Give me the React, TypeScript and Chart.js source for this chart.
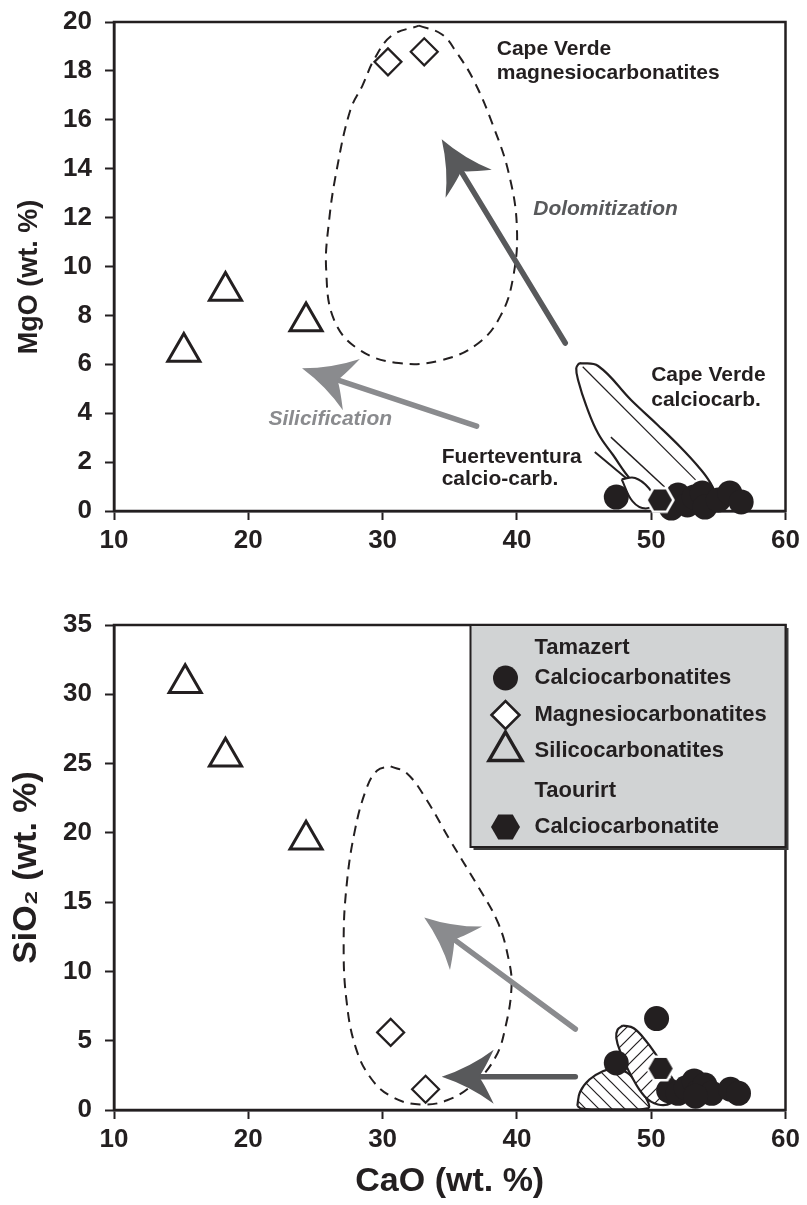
import React, { useEffect, useRef } from 'react';
import { Chart, registerables } from 'chart.js';

Chart.register(...registerables);

const FONT = "'Liberation Sans', Arial, Helvetica, sans-serif";
const INK = '#231f20';
const DARK_GREY = '#58595b';
const LIGHT_GREY = '#8a8b8e';
const LEGEND_BG = '#d1d3d4';

// ---------- axes ----------
const caoTicks = [10, 20, 30, 40, 50, 60];
const mgoTicks = [0, 2, 4, 6, 8, 10, 12, 14, 16, 18, 20];
const sio2Ticks = [0, 5, 10, 15, 20, 25, 30, 35];

// ---------- upper panel: MgO vs CaO ----------
const calcioCaO_A = [47.4, 51.5, 52.0, 52.7, 53.2, 53.8, 54.0, 55.0, 55.85, 56.7];
const calcioMgO_A = [0.57, 0.12, 0.65, 0.25, 0.57, 0.74, 0.16, 0.45, 0.74, 0.37];
const magnesioCaO_A = [30.4, 33.1];
const magnesioMgO_A = [18.37, 18.78];
const silicoCaO_A = [15.2, 18.3, 24.3];
const silicoMgO_A = [6.5, 9.0, 7.75];
const taourirtCaO_A = [50.65];
const taourirtMgO_A = [0.45];

// Cape Verde magnesiocarbonatite field (dashed)
const cvMagFieldCaO = [32.7, 34.4, 35.5, 36.8, 38.2, 39.4, 40.0, 39.7, 38.8, 37.15, 34.4, 31.2, 28.25, 26.4, 25.8, 26.0, 26.6, 27.6, 28.5, 29.4, 30.7, 32.7];
const cvMagFieldMgO = [19.85, 19.5, 18.76, 17.6, 15.8, 13.8, 11.6, 9.5, 8.0, 6.87, 6.17, 6.05, 6.6, 7.8, 9.85, 11.8, 14.0, 16.4, 17.4, 18.5, 19.45, 19.85];
// Cape Verde calciocarbonatite field (solid)
const cvCalFieldCaO = [44.64, 46.05, 48.5, 50.5, 52.2, 53.47, 54.36, 54.8, 54.36, 52.6, 51.0, 49.6, 48.5, 47.16, 46.05, 45.16, 44.57, 44.42, 44.64];
const cvCalFieldMgO = [6.05, 5.93, 4.54, 3.51, 2.6, 1.84, 1.19, 0.57, 0.2, 0.3, 0.5, 0.8, 1.27, 2.29, 3.17, 4.31, 5.33, 5.84, 6.05];
const cvInnerLineCaO = [44.9, 53.3];
const cvInnerLineMgO = [5.9, 1.27];
// Fuerteventura field (upper panel)
const fvLineCaO = [47.0, 51.0];
const fvLineMgO = [3.02, 0.98];
const fvLensCaO = [47.8, 48.8, 49.8, 50.3, 49.6, 48.6, 47.8];
const fvLensMgO = [1.3, 1.35, 0.95, 0.4, 0.1, 0.4, 1.3];
const fvLeaderCaO = [45.8, 48.3];
const fvLeaderMgO = [2.41, 1.27];

// arrows [tail, tip]
const dolomitizationCaO = [43.6, 34.4];
const dolomitizationMgO = [6.87, 15.2];
const silicificationCaO = [37.0, 24.0];
const silicificationMgO = [3.47, 5.84];

// annotation texts
const noteText = ['Cape Verde', 'magnesiocarbonatites', 'Cape Verde', 'calciocarb.', 'Fuerteventura', 'calcio-carb.'];
const noteCaO = [38.5, 38.5, 50.0, 50.0, 34.4, 34.4];
const noteMgO = [18.9, 17.9, 5.55, 4.54, 2.2, 1.3];
const processText = ['Dolomitization', 'Silicification'];
const processCaO = [46.6, 26.1];
const processMgO = [12.35, 3.75];

// ---------- lower panel: SiO2 vs CaO ----------
const calcioCaO_B = [47.4, 50.4, 51.3, 52.0, 52.6, 53.2, 53.5, 54.0, 54.5, 55.9, 56.5, 53.3];
const calcioSiO2_B = [3.4, 6.6, 1.4, 1.2, 1.6, 2.1, 1.3, 1.8, 1.2, 1.5, 1.2, 1.0];
const magnesioCaO_B = [30.6, 33.2];
const magnesioSiO2_B = [5.6, 1.5];
const silicoCaO_B = [15.3, 18.3, 24.3];
const silicoSiO2_B = [30.8, 25.5, 19.5];
const taourirtCaO_B = [50.7];
const taourirtSiO2_B = [3.0];

const cvMagField2CaO = [30.6, 31.8, 33.2, 35.0, 37.0, 38.6, 39.4, 39.6, 39.15, 38.4, 36.8, 34.8, 32.8, 30.8, 29.2, 28.0, 27.3, 27.1, 27.3, 27.9, 28.8, 29.6, 30.6];
const cvMagField2SiO2 = [24.8, 24.3, 22.5, 19.5, 16.3, 13.5, 10.8, 8.9, 6.0, 3.8, 1.9, 0.7, 0.4, 0.9, 2.2, 4.5, 8.0, 12.0, 16.0, 20.0, 23.2, 24.5, 24.8];
const fvUpperCaO = [47.9, 48.7, 49.6, 50.5, 51.5, 52.0, 51.5, 50.5, 49.5, 48.5, 47.7, 47.4, 47.5, 47.9];
const fvUpperSiO2 = [6.1, 5.9, 5.0, 3.8, 2.4, 1.2, 0.5, 0.4, 1.0, 2.5, 4.2, 5.2, 5.8, 6.1];
const fvLowerCaO = [44.5, 44.7, 45.4, 46.4, 47.3, 48.2, 49.0, 49.6, 49.8, 48.0, 46.0, 44.8, 44.5];
const fvLowerSiO2 = [0.3, 1.3, 2.2, 2.8, 3.0, 2.7, 1.9, 0.9, 0.15, 0.05, 0.05, 0.1, 0.3];

const upArrowCaO = [44.35, 33.1];
const upArrowSiO2 = [5.84, 13.9];
const leftArrowCaO = [44.35, 34.4];
const leftArrowSiO2 = [2.4, 2.4];

// legend
const legendHeads = ['Tamazert', 'Taourirt'];
const legendItems = ['Calciocarbonatites', 'Magnesiocarbonatites', 'Silicocarbonatites', 'Calciocarbonatite'];

// axis titles
const xTitle = 'CaO (wt. %)';
const yTitleTop = 'MgO (wt. %)';
const yTitleBottom = 'SiO\u2082 (wt. %)';

type XY = { x: number; y: number };
const zip = (xs: number[], ys: number[]): XY[] => xs.map((x, i) => ({ x, y: ys[i] }));

function makeHexagon(size: number, outline: string | null, ow: number): HTMLCanvasElement {
  const pad = outline ? ow : 0;
  const c = document.createElement('canvas');
  const w = Math.ceil(size + pad * 2 + 2);
  const h = Math.ceil(size * 0.866 + pad * 2 + 2);
  c.width = w;
  c.height = h;
  const ctx = c.getContext('2d')!;
  const cx = w / 2, cy = h / 2, r = size / 2;
  ctx.beginPath();
  for (let i = 0; i < 6; i++) {
    const a = (Math.PI / 3) * i;
    const px = cx + r * Math.cos(a), py = cy + r * Math.sin(a);
    if (i === 0) ctx.moveTo(px, py); else ctx.lineTo(px, py);
  }
  ctx.closePath();
  ctx.fillStyle = INK;
  ctx.fill();
  if (outline) {
    ctx.lineWidth = ow;
    ctx.strokeStyle = outline;
    ctx.stroke();
  }
  return c;
}

function makeHatch(dir: number): CanvasPattern {
  const s = 13;
  const c = document.createElement('canvas');
  c.width = s;
  c.height = s;
  const ctx = c.getContext('2d')!;
  ctx.fillStyle = '#ffffff';
  ctx.fillRect(0, 0, s, s);
  ctx.strokeStyle = INK;
  ctx.lineWidth = 1.2;
  ctx.beginPath();
  if (dir > 0) {
    ctx.moveTo(-1, s + 1); ctx.lineTo(s + 1, -1);
    ctx.moveTo(-1, 1); ctx.lineTo(1, -1);
    ctx.moveTo(s - 1, s + 1); ctx.lineTo(s + 1, s - 1);
  } else {
    ctx.moveTo(-1, -1); ctx.lineTo(s + 1, s + 1);
    ctx.moveTo(s - 1, -1); ctx.lineTo(s + 1, 1);
    ctx.moveTo(-1, s - 1); ctx.lineTo(1, s + 1);
  }
  ctx.stroke();
  return ctx.createPattern(c, 'repeat')!;
}

function drawArrow(ctx: CanvasRenderingContext2D, x0: number, y0: number, x1: number, y1: number, color: string) {
  const dx = x1 - x0, dy = y1 - y0;
  const len = Math.hypot(dx, dy);
  const ux = dx / len, uy = dy / len;
  const px = -uy, py = ux;
  const headLen = 52, half = 27, notch = 37;
  const nx = x1 - ux * notch, ny = y1 - uy * notch;
  ctx.save();
  ctx.strokeStyle = color;
  ctx.fillStyle = color;
  ctx.lineWidth = 5.5;
  ctx.lineCap = 'round';
  ctx.beginPath();
  ctx.moveTo(x0, y0);
  ctx.lineTo(nx + ux * 3, ny + uy * 3);
  ctx.stroke();
  const bx = x1 - ux * headLen, by = y1 - uy * headLen;
  const w1x = bx + px * half, w1y = by + py * half;
  const w2x = bx - px * half, w2y = by - py * half;
  const mx = x1 - ux * headLen * 0.55, my = y1 - uy * headLen * 0.55;
  ctx.beginPath();
  ctx.moveTo(x1, y1);
  ctx.quadraticCurveTo(mx + px * half * 0.35, my + py * half * 0.35, w1x, w1y);
  ctx.quadraticCurveTo(nx + px * 4 - ux * 4, ny + py * 4 - uy * 4, nx, ny);
  ctx.quadraticCurveTo(nx - px * 4 - ux * 4, ny - py * 4 - uy * 4, w2x, w2y);
  ctx.quadraticCurveTo(mx - px * half * 0.35, my - py * half * 0.35, x1, y1);
  ctx.closePath();
  ctx.fill();
  ctx.restore();
}

const framePlugin = {
  id: 'frame',
  beforeDatasetsDraw(chart: any) {
    const { ctx, chartArea: a } = chart;
    ctx.save();
    ctx.strokeStyle = INK;
    ctx.lineWidth = 2.5;
    ctx.strokeRect(a.left, a.top, a.right - a.left, a.bottom - a.top);
    ctx.restore();
  },
};

function pointDataset(data: XY[], style: any, radius: number, bg: string, bw: number) {
  return {
    data,
    pointStyle: style,
    pointRadius: radius,
    pointHoverRadius: radius,
    pointBackgroundColor: bg,
    pointBorderColor: INK,
    pointBorderWidth: bw,
    backgroundColor: bg,
    borderColor: INK,
    showLine: false,
    clip: false as any,
  };
}

function lineDataset(data: XY[], opts: any) {
  return {
    data,
    showLine: true,
    pointRadius: 0,
    pointHoverRadius: 0,
    borderColor: INK,
    borderWidth: 2,
    tension: 0.4,
    fill: false,
    backgroundColor: 'rgba(0,0,0,0)',
    ...opts,
  };
}

const tickFont = { family: FONT, size: 26, weight: 'bold' };

function xAxis(title: string | null, titleSize: number, height: number, titlePad: number) {
  return {
    type: 'linear',
    min: caoTicks[0],
    max: caoTicks[caoTicks.length - 1],
    afterFit: (s: any) => {
      s.height = height;
      s.paddingLeft = 0;
      s.paddingRight = 0;
    },
    afterBuildTicks: (s: any) => { s.ticks = caoTicks.map((v) => ({ value: v })); },
    ticks: { color: INK, font: tickFont, padding: 5, maxRotation: 0, autoSkip: false },
    grid: { display: true, drawOnChartArea: false, drawTicks: true, tickLength: 9, tickWidth: 2, tickColor: INK, color: INK },
    border: { display: true, color: INK, width: 2.5 },
    title: {
      display: !!title,
      text: title || '',
      color: INK,
      font: { family: FONT, size: titleSize, weight: 'bold' },
      padding: { top: 0, bottom: titlePad },
    },
  };
}

function yAxis(ticks: number[], title: string | null, titleSize: number, titlePad: number) {
  return {
    type: 'linear',
    min: ticks[0],
    max: ticks[ticks.length - 1],
    afterFit: (s: any) => {
      s.width = 114;
      s.paddingTop = 0;
      s.paddingBottom = 0;
    },
    afterBuildTicks: (s: any) => { s.ticks = ticks.map((v) => ({ value: v })); },
    ticks: { color: INK, font: tickFont, padding: 13, autoSkip: false },
    grid: { display: true, drawOnChartArea: false, drawTicks: true, tickLength: 9, tickWidth: 2, tickColor: INK, color: INK },
    border: { display: true, color: INK, width: 2.5 },
    title: {
      display: !!title,
      text: title || '',
      color: INK,
      font: { family: FONT, size: titleSize, weight: 'bold' },
      padding: { top: titlePad, bottom: 0 },
    },
  };
}

export default function App() {
  const topRef = useRef<HTMLCanvasElement>(null);
  const botRef = useRef<HTMLCanvasElement>(null);

  useEffect(() => {
    document.body.style.margin = '0';
    const hexMarker = makeHexagon(27, '#ffffff', 2.5);
    const hexLegend = makeHexagon(29, null, 0);
    const hatchUp = makeHatch(1);
    const hatchDown = makeHatch(-1);

    const topAnnotations = {
      id: 'topAnnotations',
      afterDatasetsDraw(chart: any) {
        const { ctx, scales } = chart;
        const X = (v: number) => scales.x.getPixelForValue(v);
        const Y = (v: number) => scales.y.getPixelForValue(v);
        drawArrow(ctx, X(dolomitizationCaO[0]), Y(dolomitizationMgO[0]), X(dolomitizationCaO[1]), Y(dolomitizationMgO[1]), DARK_GREY);
        drawArrow(ctx, X(silicificationCaO[0]), Y(silicificationMgO[0]), X(silicificationCaO[1]), Y(silicificationMgO[1]), LIGHT_GREY);
        ctx.save();
        ctx.textBaseline = 'middle';
        ctx.textAlign = 'left';
        ctx.fillStyle = INK;
        ctx.font = `bold 21px ${FONT}`;
        noteText.forEach((t, i) => ctx.fillText(t, X(noteCaO[i]), Y(noteMgO[i])));
        ctx.textAlign = 'center';
        ctx.font = `italic bold 21px ${FONT}`;
        const colors = [DARK_GREY, LIGHT_GREY];
        processText.forEach((t, i) => {
          ctx.fillStyle = colors[i];
          ctx.fillText(t, X(processCaO[i]), Y(processMgO[i]));
        });
        ctx.restore();
      },
      afterDraw(chart: any) {
        const { ctx } = chart;
        ctx.save();
        ctx.translate(30, 277);
        ctx.rotate(-Math.PI / 2);
        ctx.textAlign = 'center';
        ctx.textBaseline = 'middle';
        ctx.fillStyle = INK;
        ctx.font = `bold 27px ${FONT}`;
        ctx.fillText(yTitleTop, 0, 0);
        ctx.restore();
      },
    };

    const botAnnotations = {
      id: 'botAnnotations',
      afterDatasetsDraw(chart: any) {
        const { ctx, scales } = chart;
        const X = (v: number) => scales.x.getPixelForValue(v);
        const Y = (v: number) => scales.y.getPixelForValue(v);
        drawArrow(ctx, X(upArrowCaO[0]), Y(upArrowSiO2[0]), X(upArrowCaO[1]), Y(upArrowSiO2[1]), LIGHT_GREY);
        drawArrow(ctx, X(leftArrowCaO[0]), Y(leftArrowSiO2[0]), X(leftArrowCaO[1]), Y(leftArrowSiO2[1]), DARK_GREY);
      },
      afterDraw(chart: any) {
        const { ctx, chartArea: a } = chart;
        const right = a.right;
        const left = right - 315;
        const top = a.top;
        const h = 222;
        ctx.save();
        ctx.fillStyle = '#3a3a3a';
        ctx.fillRect(left + 3, top + 3, right - left, h);
        ctx.fillStyle = LEGEND_BG;
        ctx.fillRect(left, top, right - left, h);
        ctx.strokeStyle = INK;
        ctx.lineWidth = 2;
        ctx.strokeRect(left, top, right - left, h);
        const mx = left + 35;
        const tx = left + 64;
        const rows = [23, 53, 90, 126, 166, 202];
        ctx.fillStyle = INK;
        ctx.textAlign = 'left';
        ctx.textBaseline = 'middle';
        ctx.font = `bold 22px ${FONT}`;
        ctx.fillText(legendHeads[0], tx, top + rows[0]);
        ctx.fillText(legendItems[0], tx, top + rows[1]);
        ctx.fillText(legendItems[1], tx, top + rows[2]);
        ctx.fillText(legendItems[2], tx, top + rows[3]);
        ctx.fillText(legendHeads[1], tx, top + rows[4]);
        ctx.fillText(legendItems[3], tx, top + rows[5]);
        // circle
        ctx.beginPath();
        ctx.arc(mx, top + rows[1], 12.5, 0, Math.PI * 2);
        ctx.fill();
        // diamond
        const dy = top + rows[2], r = 14;
        ctx.beginPath();
        ctx.moveTo(mx - r, dy); ctx.lineTo(mx, dy - r); ctx.lineTo(mx + r, dy); ctx.lineTo(mx, dy + r); ctx.closePath();
        ctx.fillStyle = '#ffffff';
        ctx.fill();
        ctx.lineWidth = 2.5;
        ctx.stroke();
        // triangle
        const ty = top + rows[3], tr = 19;
        ctx.beginPath();
        ctx.moveTo(mx, ty - tr);
        ctx.lineTo(mx + tr * 0.866, ty + tr * 0.5);
        ctx.lineTo(mx - tr * 0.866, ty + tr * 0.5);
        ctx.closePath();
        ctx.lineWidth = 3.5;
        ctx.stroke();
        // hexagon
        ctx.drawImage(hexLegend, mx - hexLegend.width / 2, top + rows[5] - hexLegend.height / 2);
        ctx.restore();
      },
    };

    const common = {
      responsive: false,
      animation: false as const,
      devicePixelRatio: 1,
      events: [] as any[],
      plugins: { legend: { display: false }, tooltip: { enabled: false } },
    };

    const topChart = new Chart(topRef.current!, {
      type: 'scatter',
      data: {
        datasets: [
          pointDataset(zip(taourirtCaO_A, taourirtMgO_A), hexMarker, 14, INK, 0),
          pointDataset(zip(calcioCaO_A, calcioMgO_A), 'circle', 12.5, INK, 0),
          pointDataset(zip(magnesioCaO_A, magnesioMgO_A), 'rectRot', 13.5, '#ffffff', 2.2),
          pointDataset(zip(silicoCaO_A, silicoMgO_A), 'triangle', 18.5, '#ffffff', 3),
          lineDataset(zip(fvLensCaO, fvLensMgO), { fill: 'shape', backgroundColor: '#ffffff', borderWidth: 2 }),
          lineDataset(zip(fvLeaderCaO, fvLeaderMgO), { tension: 0, borderWidth: 2 }),
          lineDataset(zip(fvLineCaO, fvLineMgO), { tension: 0, borderWidth: 1.5 }),
          lineDataset(zip(cvInnerLineCaO, cvInnerLineMgO), { tension: 0, borderWidth: 1.2 }),
          lineDataset(zip(cvCalFieldCaO, cvCalFieldMgO), { borderWidth: 2.2 }),
          lineDataset(zip(cvMagFieldCaO, cvMagFieldMgO), { borderWidth: 2, borderDash: [10, 7] }),
        ] as any,
      },
      options: {
        ...common,
        layout: { padding: { left: 0, top: 22, right: 19, bottom: 0 } },
        scales: {
          x: xAxis(null, 26, 64, 0),
          y: yAxis(mgoTicks, null, 27, 0),
        } as any,
      } as any,
      plugins: [framePlugin, topAnnotations],
    });

    const botChart = new Chart(botRef.current!, {
      type: 'scatter',
      data: {
        datasets: [
          pointDataset(zip(taourirtCaO_B, taourirtSiO2_B), hexMarker, 14, INK, 0),
          pointDataset(zip(calcioCaO_B, calcioSiO2_B), 'circle', 12.5, INK, 0),
          pointDataset(zip(magnesioCaO_B, magnesioSiO2_B), 'rectRot', 13.5, '#ffffff', 2.2),
          pointDataset(zip(silicoCaO_B, silicoSiO2_B), 'triangle', 18.5, '#ffffff', 3),
          lineDataset(zip(fvUpperCaO, fvUpperSiO2), { fill: 'shape', backgroundColor: hatchUp, borderWidth: 2.2 }),
          lineDataset(zip(fvLowerCaO, fvLowerSiO2), { fill: 'shape', backgroundColor: hatchDown, borderWidth: 2.2 }),
          lineDataset(zip(cvMagField2CaO, cvMagField2SiO2), { borderWidth: 2, borderDash: [10, 7] }),
        ] as any,
      },
      options: {
        ...common,
        layout: { padding: { left: 0, top: 50, right: 19, bottom: 0 } },
        scales: {
          x: xAxis(xTitle, 34, 95, 3),
          y: yAxis(sio2Ticks, yTitleBottom, 34, 6),
        } as any,
      } as any,
      plugins: [framePlugin, botAnnotations],
    });

    return () => {
      topChart.destroy();
      botChart.destroy();
    };
  }, []);

  return (
    <div style={{ position: 'relative', width: 807, height: 1205, background: '#ffffff' }}>
      <canvas ref={topRef} width={807} height={575} style={{ position: 'absolute', left: 0, top: 0, width: 807, height: 575 }} />
      <canvas ref={botRef} width={807} height={630} style={{ position: 'absolute', left: 0, top: 575, width: 807, height: 630 }} />
    </div>
  );
}
